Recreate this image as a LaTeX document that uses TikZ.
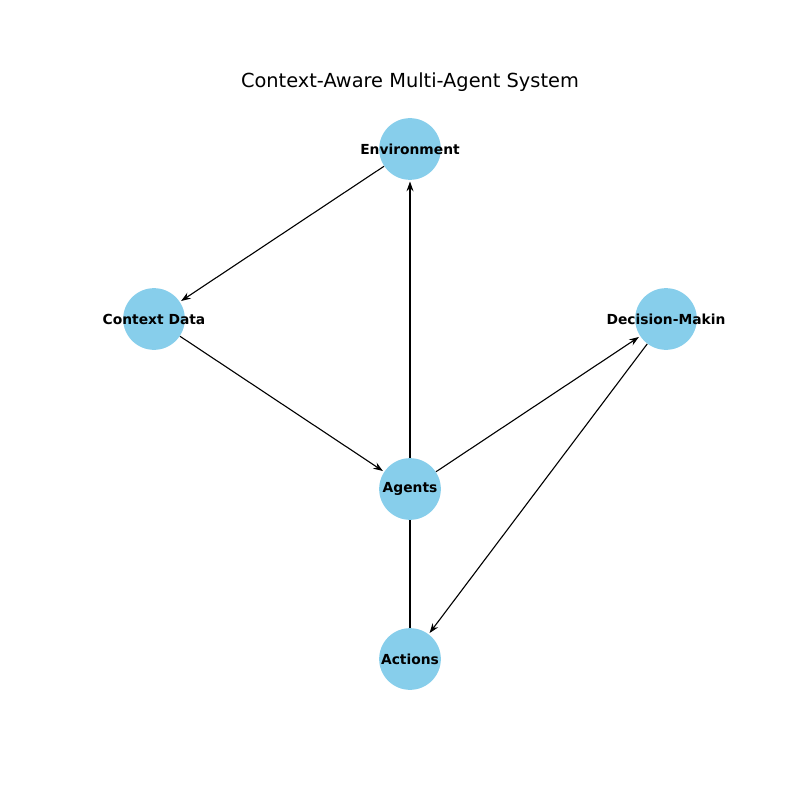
\documentclass[tikz,border=0pt]{standalone}
\usepackage{fontspec}
\setmainfont{DejaVu Sans}
\definecolor{nodeblue}{RGB}{135, 206, 235}
\usetikzlibrary{arrows.meta, positioning}
\pgfdeclarelayer{background}
\pgfsetlayers{background,main}

\begin{document}
\begin{tikzpicture}[x=0.0254cm, y=-0.0254cm,
  agent/.style={circle, fill=nodeblue, minimum size=44.6pt, inner sep=0pt, font=\fontsize{10}{12}\selectfont\bfseries},
  flow/.style={-{Stealth[length=7pt, width=5pt]}, line width=0.8pt, shorten >=1pt},
]
\useasboundingbox (0,0) rectangle (800,800);

% Title
\node[font=\fontsize{14}{17}\selectfont] (title) at (410, 82) {Context-Aware Multi-Agent System};

% Nodes
\node[agent] (env) at (410, 149) {\makebox[0pt]{Environment}};
\node[agent] (ctx) at (154, 319) {\makebox[0pt]{Context Data}};
\node[agent] (dec) at (666, 319) {\makebox[0pt]{Decision-Makin}};
\node[agent] (agents) at (410, 489) {\makebox[0pt]{Agents}};
\node[agent] (act) at (410, 659) {\makebox[0pt]{Actions}};

% Edges (behind the nodes)
\begin{pgfonlayer}{background}
\draw[flow] (env) -- (ctx);
\draw[flow] (ctx) -- (agents);
\draw[flow] (agents) -- (dec);
\draw[flow] (dec) -- (act);
\draw[flow] (act) -- (env);
\end{pgfonlayer}
\end{tikzpicture}
\end{document}
